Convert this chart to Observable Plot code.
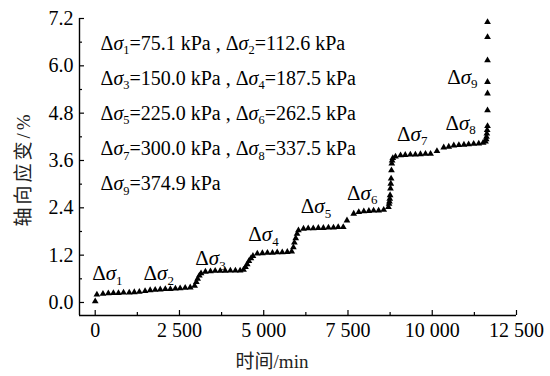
<!DOCTYPE html>
<html>
<head>
<meta charset="utf-8">
<script src="https://cdn.jsdelivr.net/npm/d3@7"></script>
<script src="https://cdn.jsdelivr.net/npm/@observablehq/plot@0.6"></script>
<style>
  body { margin: 0; background: white; }
  #chart svg text, #chart svg tspan { font-family: "Liberation Serif", "Noto Sans CJK SC", serif !important; }
</style>
</head>
<body>
<div id="chart"></div>
<script>
// ---- data ----
const timeMin = [
  0, 50, 230, 390, 540, 690, 840, 1010, 1160, 1310,
  1480, 1630, 1780, 1930, 2080, 2230, 2380, 2520, 2670, 2820,
  2950, 3000, 3040, 3090, 3140,
  3270, 3420, 3560, 3710, 3860, 4010, 4160, 4300, 4400,
  4460, 4510, 4560, 4620, 4680,
  4810, 4960, 5110, 5260, 5400, 5550, 5700, 5830,
  5880, 5910, 5950, 5990, 6030,
  6180, 6320, 6470, 6620, 6770, 6920, 7070, 7210, 7360,
  7470, 7670, 7820, 7970, 8120, 8260, 8410, 8560,
  8700, 8720, 8730, 8740, 8750, 8760, 8770, 8780, 8790, 8800, 8810, 8830,
  8910, 9060, 9200, 9350, 9500, 9650, 9800, 9950,
  10140, 10340, 10490, 10640, 10790, 10940, 11080, 11230, 11380, 11510,
  11580, 11600, 11610, 11620, 11630, 11640,
  11640, 11640, 11640, 11640, 11640, 11640
];
const strainPct = [
  0.03, 0.20, 0.22, 0.23, 0.24, 0.24, 0.25, 0.25, 0.26, 0.27,
  0.29, 0.31, 0.32, 0.33, 0.34, 0.34, 0.35, 0.36, 0.37, 0.38,
  0.42, 0.52, 0.60, 0.68, 0.74,
  0.78, 0.79, 0.80, 0.80, 0.80, 0.81, 0.81, 0.81, 0.83,
  0.90, 0.97, 1.05, 1.12, 1.18,
  1.24, 1.25, 1.26, 1.26, 1.27, 1.27, 1.28, 1.29,
  1.40, 1.52, 1.63, 1.74, 1.83,
  1.87, 1.88, 1.88, 1.89, 1.89, 1.90, 1.90, 1.91, 1.91,
  2.08, 2.25, 2.29, 2.31, 2.32, 2.33, 2.33, 2.35,
  2.42, 2.50, 2.56, 2.63, 2.72, 2.89, 3.01, 3.14, 3.35, 3.52, 3.60, 3.66,
  3.70, 3.73, 3.74, 3.75, 3.75, 3.76, 3.77, 3.77,
  3.84, 3.93, 3.95, 3.98, 3.99, 4.00, 4.01, 4.02, 4.03, 4.05,
  4.08, 4.14, 4.20, 4.28, 4.37, 4.47,
  4.87, 5.30, 5.59, 6.14, 6.73, 7.11
];

// stage labels (anchored at left/baseline, in data units)
const stageLabels = ["Δσ1", "Δσ2", "Δσ3", "Δσ4", "Δσ5", "Δσ6", "Δσ7", "Δσ8", "Δσ9"];
const stageLabelTime = [-90, 1435, 2969, 4543, 6101, 7473, 8957, 10392, 10442];
const stageLabelStrain = [0.56, 0.56, 0.95, 1.55, 2.27, 2.61, 4.10, 4.38, 5.55];

const legendLines = [
  "Δσ1=75.1 kPa , Δσ2=112.6 kPa",
  "Δσ3=150.0 kPa , Δσ4=187.5 kPa",
  "Δσ5=225.0 kPa , Δσ6=262.5 kPa",
  "Δσ7=300.0 kPa , Δσ8=337.5 kPa",
  "Δσ9=374.9 kPa"
];

const xMajorTicks = [0, 2500, 5000, 7500, 10000, 12500];
const xMinorTicks = [1250, 3750, 6250, 8750, 11250];
const yMajorTicks = [0, 1.2, 2.4, 3.6, 4.8, 6.0, 7.2];
const yMinorTicks = [0.6, 1.8, 3.0, 4.2, 5.4, 6.6];
const xLabel = "时间/min";
const yLabel = "轴向应变/%";

const xDomain = [-466, 12500];
const yDomain = [-0.33, 7.2];

const points = timeMin.map((t, i) => ({t, s: strainPct[i]}));
const labels = stageLabels.map((l, i) => ({l, t: stageLabelTime[i], s: stageLabelStrain[i]}));

const fmtX = d => d3.format(",")(d).replace(/,/g, " ");
const fmtY = d3.format(".1f");

const font = "Liberation Serif, Noto Sans CJK SC, serif";

const chart = Plot.plot({
  width: 550,
  height: 376,
  marginLeft: 79,
  marginRight: 34,
  marginTop: 18,
  marginBottom: 61,
  style: {fontFamily: font, background: "white", color: "black"},
  x: {domain: xDomain, axis: null},
  y: {domain: yDomain, axis: null},
  marks: [
    Plot.ruleY([yDomain[0]], {stroke: "black", strokeWidth: 1.4}),
    Plot.ruleX([xDomain[0]], {stroke: "black", strokeWidth: 1.4}),
    Plot.axisX({ticks: xMajorTicks, tickSize: -5, tickPadding: 12.5, tickFormat: fmtX, fontSize: 20, fontFamily: font, label: null, strokeWidth: 1.2}),
    Plot.axisX({ticks: xMinorTicks, tickSize: -3, tickFormat: null, text: null, label: null, strokeWidth: 1.2}),
    Plot.axisY({ticks: yMajorTicks, tickSize: -5, tickPadding: 11, tickFormat: fmtY, fontSize: 20, fontFamily: font, label: null, strokeWidth: 1.2}),
    Plot.axisY({ticks: yMinorTicks, tickSize: -3, tickFormat: null, text: null, label: null, strokeWidth: 1.2}),
    Plot.dot(points, {x: "t", y: "s", symbol: "triangle", r: 2.5, fill: "black"}),
    Plot.text(labels, {x: "t", y: "s", text: "l", textAnchor: "start", lineAnchor: "bottom", fontSize: 21, fontFamily: font, fill: "black"}),
    ...legendLines.map((line, i) => Plot.text([line], {
      frameAnchor: "top-left", dx: 21, dy: 31 + 35.2 * i,
      textAnchor: "start", lineAnchor: "bottom", fontSize: 20, fontFamily: font, fill: "black"
    })),
    Plot.text([xLabel], {frameAnchor: "bottom", dx: -26, dy: 52, textAnchor: "middle", fontSize: 19, fontFamily: font, fill: "#222"}),
    Plot.text([yLabel], {frameAnchor: "left", dx: -56, dy: 2, rotate: -90, textAnchor: "middle", lineAnchor: "middle", fontSize: 19, fontFamily: font, fill: "#222"})
  ]
});

document.getElementById("chart").appendChild(chart);

// y label: slightly spaced like the reference
chart.querySelectorAll("text").forEach(t => {
  if (t.textContent === yLabel) t.setAttribute("letter-spacing", "3");
});

// format Δσn as Δ + italic σ + subscript n
const NS = "http://www.w3.org/2000/svg";
chart.querySelectorAll("text").forEach(t => {
  const s = t.textContent;
  if (!s.includes("σ")) return;
  const fs = parseFloat(getComputedStyle(t).fontSize) || 20;
  while (t.firstChild) t.removeChild(t.firstChild);
  let pending = 0;
  const add = (txt, attrs = {}) => {
    const ts = document.createElementNS(NS, "tspan");
    for (const k in attrs) ts.setAttribute(k, attrs[k]);
    if (pending) { ts.setAttribute("dy", (+(attrs.dy || 0) + pending).toFixed(2)); pending = 0; }
    ts.textContent = txt;
    t.appendChild(ts);
  };
  const re = /Δσ(\d)/g;
  let last = 0, m;
  while ((m = re.exec(s))) {
    if (m.index > last) add(s.slice(last, m.index));
    add("Δ");
    add("σ", {"font-style": "italic"});
    const shift = fs * 0.22;
    add(m[1], {"font-size": (fs * 0.62).toFixed(1), dy: shift.toFixed(2)});
    pending = -shift;
    last = m.index + m[0].length;
  }
  if (last < s.length) add(s.slice(last));
});
</script>
</body>
</html>
